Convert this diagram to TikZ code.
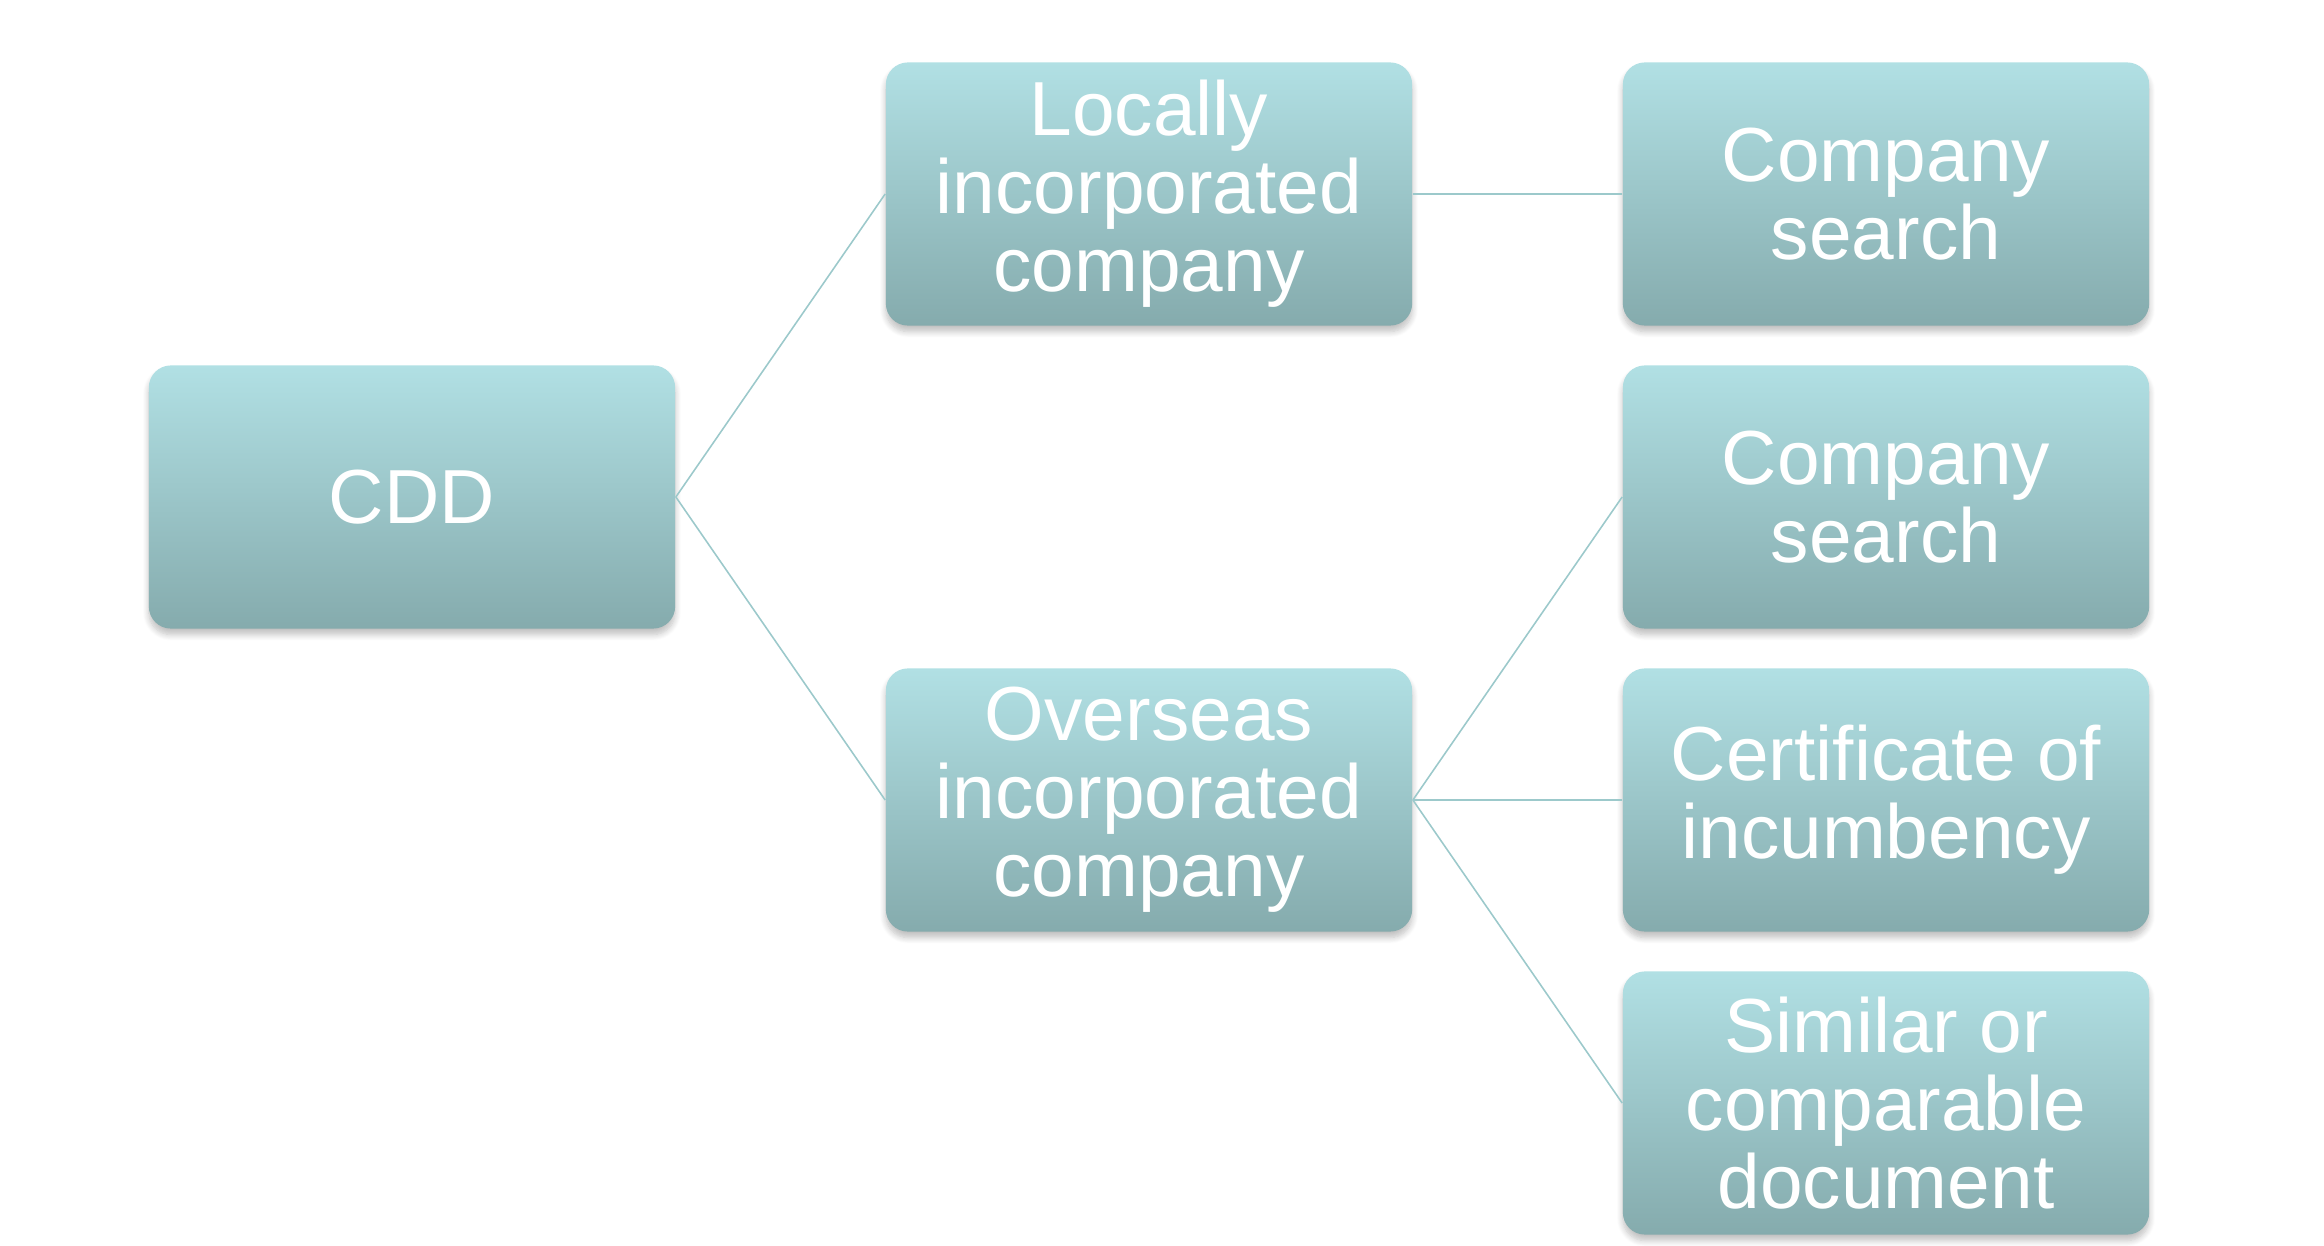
\documentclass[tikz,border=0pt]{standalone}
\usepackage{fontspec}
\setmainfont{Liberation Sans}
\usetikzlibrary{shadows.blur}
\definecolor{boxtop}{HTML}{B1E0E4}
\definecolor{boxbottom}{HTML}{85ABAD}
\definecolor{linkline}{HTML}{9CC9CB}
\begin{document}
\begin{tikzpicture}[x=0.01cm, y=-0.01cm,
    item/.style={rounded corners=0.22cm, minimum width=5.26cm, minimum height=2.63cm,
        inner sep=0pt, align=center, text=white, top color=boxtop, bottom color=boxbottom,
        font=\fontsize{21.8}{22.2}\selectfont,
        blur shadow={shadow opacity=25, shadow xshift=0pt, shadow yshift=-0.06cm,
            shadow blur radius=0.06cm, shadow blur steps=8}},
    link/.style={draw=linkline, line width=0.45pt}]
    \useasboundingbox (0, 0) rectangle (2324, 1246);
    \node[item](cdd) at (412, 497) {CDD};
    \node[item](local) at (1149, 194) {Locally\\incorporated\\company};
    \node[item](overseas) at (1149, 800) {Overseas\\incorporated\\company};
    \node[item](search1) at (1886, 194) {Company\\search};
    \node[item](search2) at (1886, 497) {Company\\search};
    \node[item](cert) at (1886, 800) {Certificate of\\incumbency};
    \node[item](similar) at (1886, 1103) {Similar or\\comparable\\document};

    \draw[link] (cdd.east) -- (local.west)
    (cdd.east) -- (overseas.west)
    (local.east) -- (search1.west);
    \draw[link] (overseas.east) -- (search2.west)
    (overseas.east) -- (cert.west)
    (overseas.east) -- (similar.west);
\end{tikzpicture}
\end{document}
